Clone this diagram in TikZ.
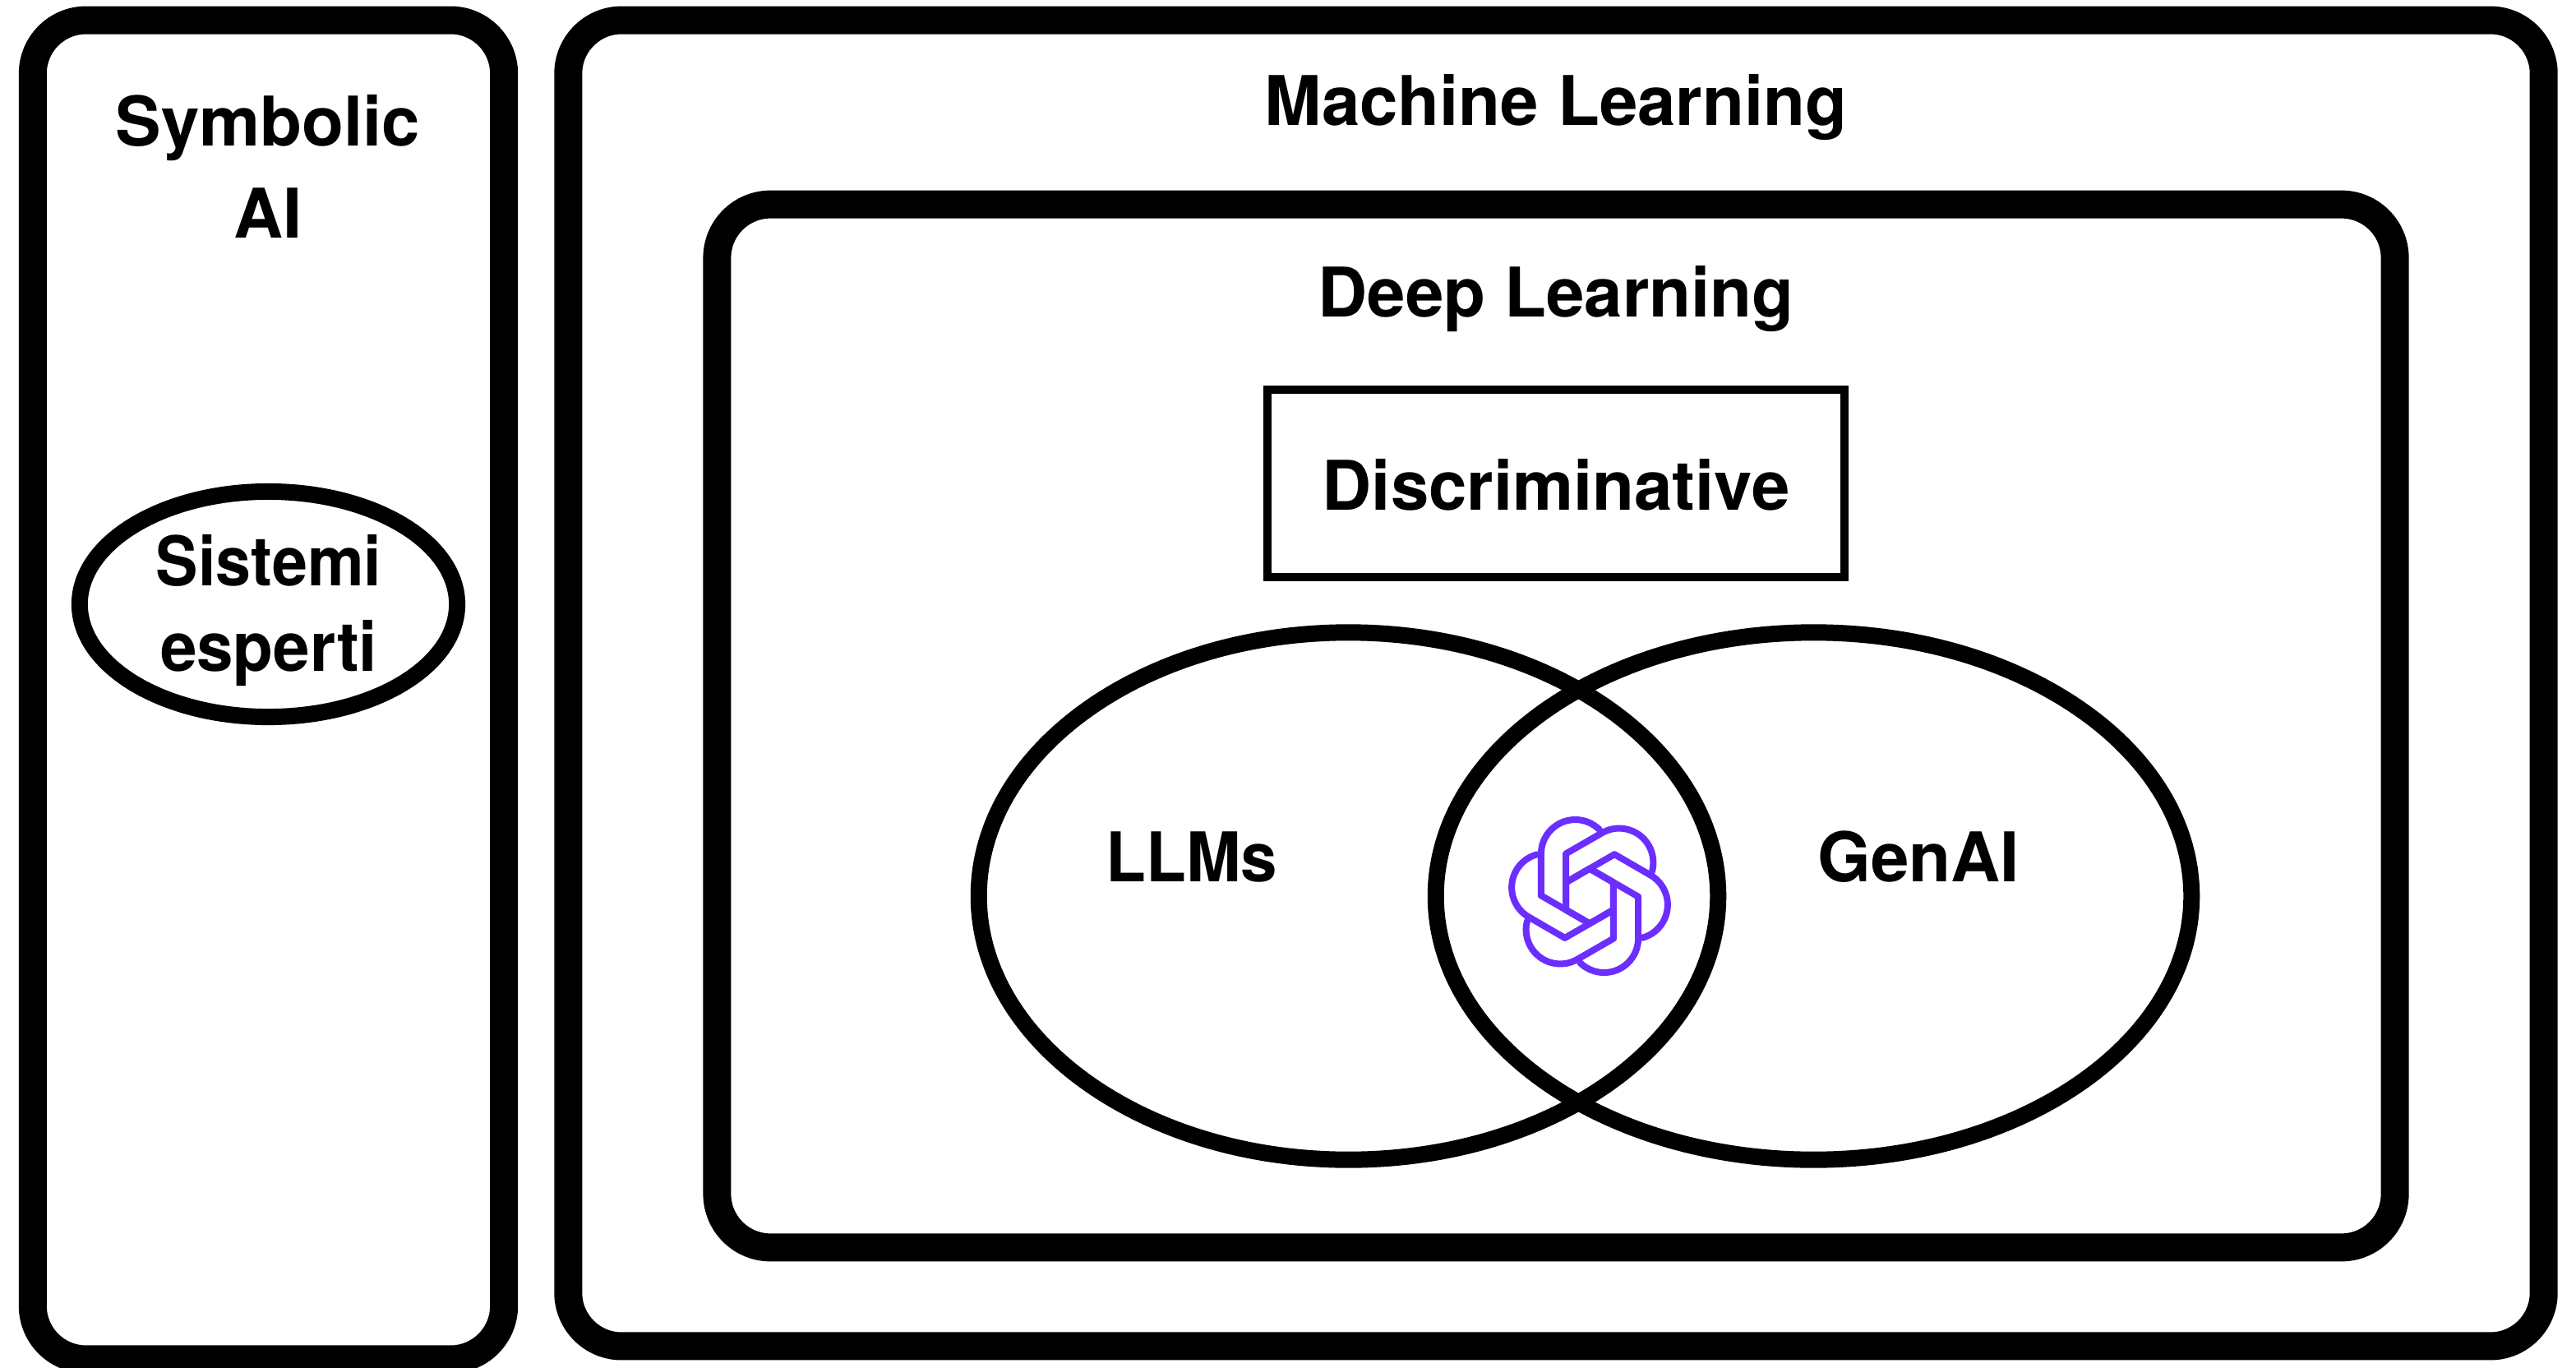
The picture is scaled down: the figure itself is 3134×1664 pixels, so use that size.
\documentclass[tikz,border=0pt]{standalone}
\usepackage{fontspec}
\setmainfont{TeX Gyre Heros}
\usetikzlibrary{shapes.geometric}
\definecolor{logopurple}{HTML}{6B2EFF}
\tikzset{
  px/.style={x=0.01cm,y=-0.01cm},
  bigbox/.style={draw=black,line width=34*0.01cm,rounded corners=0.65cm,inner sep=0pt,fill=none},
  squarebox/.style={draw=black,line width=10*0.01cm,inner sep=0pt},
  ring/.style={draw=black,ellipse,line width=20*0.01cm,inner sep=0pt},
  label/.style={inner sep=0pt,anchor=base,font=\fontsize{23.7pt}{23.7pt}\selectfont\bfseries,text=black},
}
\newcommand{\logounit}{(0,-100) -- (-87,-50) -- (-87,155) -- (45,231) arc[start angle=120,end angle=-15,radius=125]}
\begin{document}
\begin{tikzpicture}[px]
\useasboundingbox (0,0) rectangle (3134,1664);
\node[bigbox,minimum width=5.73cm,minimum height=16.28cm] (symbolic) at (326.5,839) {};
\node[bigbox,minimum width=24.02cm,minimum height=16.12cm] (ml) at (1893,831) {};
\node[bigbox,minimum width=20.40cm,minimum height=12.68cm] (dl) at (1893,883) {};
\node[squarebox,minimum width=7.02cm,minimum height=2.28cm] (disc) at (1893,588) {};
\node[ring,minimum width=4.59cm,minimum height=2.74cm] (expert) at (326.5,735) {};
\node[ring,minimum width=8.99cm,minimum height=6.41cm] (llm) at (1640.5,1090) {};
\node[ring,minimum width=9.19cm,minimum height=6.41cm] (gen) at (2206.5,1090) {};
\node[label] (tml) at (1893,153) {Machine Learning};
\node[label] (tdl) at (1893,386) {Deep Learning};
\node[label] (tdisc) at (1893,620) {Discriminative};
\node[label] (tllm) at (1450,1072) {\scalebox{0.96}[1]{LLMs}};
\node[label] (tgen) at (2334,1072) {GenAI};
\node[label] (tsym) at (326,178) {Symbolic};
\node[label] (tai) at (326,290) {AI};
\node[label] (tsis) at (327,712) {\scalebox{0.926}[1]{Sistemi}};
\node[label] (tesp) at (327,816) {\scalebox{0.96}[1]{esperti}};
\foreach \a in {0,60,...,300}{
  \begin{scope}[shift={(1934,1090)},x=0.003333cm,y=0.003333cm,rotate=\a]
    \draw[logopurple,line width=0.08cm,line join=round,line cap=round] \logounit;
  \end{scope}
}
\end{tikzpicture}
\end{document}
